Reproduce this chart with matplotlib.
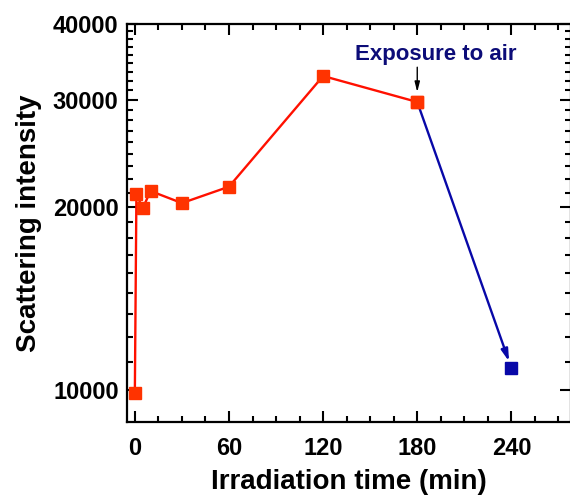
import numpy as np
import matplotlib
matplotlib.use("Agg")
from matplotlib import pyplot as plt
from matplotlib.ticker import FixedLocator, FuncFormatter, MultipleLocator

# irradiation series (red)
t_irr = [0, 1, 5, 10, 30, 60, 120, 180]
i_irr = [9900, 21000, 19900, 21250, 20300, 21600, 32850, 29770]

# after exposure to air (blue)
t_air = [180, 240]
i_air = [29770, 10870]

x_ticks = [0, 60, 120, 180, 240]
y_ticks = [10000, 20000, 30000, 40000]

red_line = "#ff1000"
red_mark = "#ff3300"
blue = "#0808a8"
navy = "#0c0c78"

plt.rcParams["font.family"] = ["Liberation Sans", "DejaVu Sans"]
plt.rcParams["font.weight"] = "bold"

fig = plt.figure(figsize=(5.70, 4.97), dpi=100)
ax = fig.add_axes([127 / 570, 75 / 497, 444 / 570, 398 / 497])

ax.plot(t_irr, i_irr, color=red_line, lw=1.7, zorder=2)
ax.plot(t_irr, i_irr, ls="none", marker="s", ms=8.3, mfc=red_mark, mec=red_mark, zorder=3)

# blue segment drawn as an arrow ending at the last marker
ax.annotate("", xy=(t_air[1], i_air[1]), xytext=(t_air[0], i_air[0]),
            arrowprops=dict(arrowstyle="-|>,head_length=0.7,head_width=0.2",
                            color=blue, lw=1.7, shrinkA=4, shrinkB=5),
            zorder=2)
ax.plot(t_air[1], i_air[1], ls="none", marker="s", ms=8.3, mfc=blue, mec=blue, zorder=3)
ax.plot(t_irr[-1], i_irr[-1], ls="none", marker="s", ms=8.3, mfc=red_mark, mec=red_mark, zorder=4)

ax.text(191.5, 35700, "Exposure to air", ha="center", va="center",
        fontsize=16, fontweight="bold", color=navy)
ax.annotate("", xy=(180, 30900), xytext=(180, 33960),
            arrowprops=dict(arrowstyle="-|>,head_length=0.6,head_width=0.15",
                            color="black", lw=1.0, shrinkA=0, shrinkB=0))

ax.set_yscale("log")
ax.set_xlim(-5, 278)
ax.set_ylim(8860, 40000)

ax.xaxis.set_major_locator(FixedLocator(x_ticks))
ax.xaxis.set_minor_locator(MultipleLocator(15))
ax.yaxis.set_major_locator(FixedLocator(y_ticks))
ax.yaxis.set_major_formatter(FuncFormatter(lambda v, p: "%d" % v))
minor = []
for lo, hi in zip(y_ticks[:-1], y_ticks[1:]):
    minor += list(np.linspace(lo, hi, 10)[1:-1])
ax.yaxis.set_minor_locator(FixedLocator(minor))
ax.yaxis.set_minor_formatter(FuncFormatter(lambda v, p: ""))

ax.tick_params(which="both", direction="in", top=True, right=True, width=1.5)
ax.tick_params(which="major", length=8, labelsize=17, pad=6)
ax.tick_params(which="minor", length=4)
ax.tick_params(axis="x", which="major", pad=11)
for lab in ax.get_xticklabels() + ax.get_yticklabels():
    lab.set_fontweight("bold")
for s in ax.spines.values():
    s.set_linewidth(1.6)

ax.set_xlabel("Irradiation time (min)", fontsize=20, fontweight="bold", labelpad=6)
ax.set_ylabel("Scattering intensity", fontsize=20, fontweight="bold", labelpad=8)

fig.savefig("out.png", dpi=100)
